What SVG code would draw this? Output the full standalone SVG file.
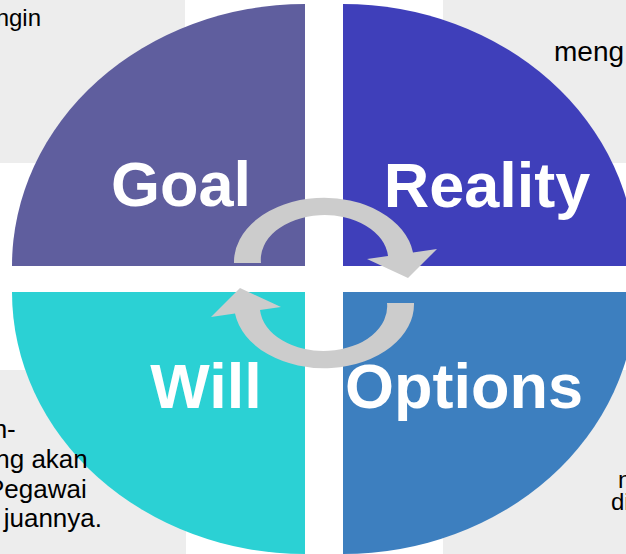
<svg xmlns="http://www.w3.org/2000/svg" width="626" height="554" viewBox="0 0 626 554">
  <style>
    .bg { fill: #ededed; }
    .label { font-family: "Liberation Sans", Arial, sans-serif; font-weight: bold; font-size: 63px; fill: #ffffff; text-anchor: middle; }
    .note { font-family: "Liberation Sans", Arial, sans-serif; font-size: 24px; fill: #000000; }
    .arrow { fill: #cccccc; }
  </style>
  <defs>
    <path id="cycleArrow" class="arrow" d="M 234,263 A 90 64 0 0 1 413,252.4 L 437,249 L 408,278 L 367,259 L 388,256 A 63 44 0 0 0 261,263 Z"/>
  </defs>
  <rect width="626" height="554" fill="#ffffff"/>
  <g id="background-boxes">
    <rect class="bg" x="0" y="0" width="185" height="163"/>
    <rect class="bg" x="443" y="0" width="183" height="163"/>
    <rect class="bg" x="0" y="370" width="186" height="184"/>
    <rect class="bg" x="443" y="370" width="183" height="184"/>
  </g>
  <g id="goal">
    <path d="M 305,266 L 12,266 A 293 262 0 0 1 305,4 Z" fill="#5f5e9e"/>
    <text class="label" x="181" y="206">Goal</text>
  </g>
  <g id="reality">
    <path d="M 343,266 L 343,4 A 293 262 0 0 1 636,266 Z" fill="#3f3fba"/>
    <text class="label" x="487" y="207">Reality</text>
  </g>
  <g id="will">
    <path d="M 305,292 L 12,292 A 293 262 0 0 0 305,554 Z" fill="#2bd1d4"/>
    <text class="label" x="206" y="408">Will</text>
  </g>
  <g id="options">
    <path d="M 343,292 L 636,292 A 293 262 0 0 1 343,554 Z" fill="#3d7fbf"/>
    <text class="label" x="464" y="408">Options</text>
  </g>
  <g id="connectors">
    <use href="#cycleArrow"/>
    <use href="#cycleArrow" transform="rotate(180 324 283)"/>
  </g>
  <g id="notes">
    <text class="note" x="41" y="26" text-anchor="end">ngin</text>
    <text class="note" x="554" y="61" style="font-size:28px">meng</text>
    <text class="note" text-anchor="end" style="font-size:26px">
      <tspan x="23" y="438">h-</tspan>
      <tspan x="95" y="468">ng akan</tspan>
      <tspan x="94" y="498">Pegawai</tspan>
      <tspan x="102" y="527">juannya.</tspan>
    </text>
    <text class="note" x="618" y="488">n</text>
    <text class="note" x="611" y="510">di</text>
  </g>
</svg>
